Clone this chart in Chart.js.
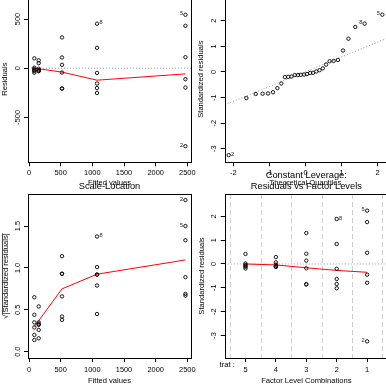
<!DOCTYPE html>
<html lang="en">
<head>
<meta charset="UTF-8">
<title>lm diagnostics: trat</title>
<script src="https://cdn.jsdelivr.net/npm/chart.js"></script>
<style>
    html, body { margin: 0; padding: 0; background: #fff; }
    body { width: 386px; height: 386px; position: relative; overflow: hidden; }
    canvas { position: absolute; }
</style>
</head>
<body>
<canvas id="resFit" width="200" height="200" style="left:0px;top:-10px"></canvas>
<canvas id="qq" width="200" height="200" style="left:193px;top:-10px"></canvas>
<canvas id="scaleLoc" width="200" height="208" style="left:0px;top:178px"></canvas>
<canvas id="resFac" width="200" height="221" style="left:193px;top:165px"></canvas>

<script>
    Chart.defaults.font.family = '"Liberation Sans", Arial, sans-serif';
    Chart.defaults.color = '#000';

    // trat levels, in the order of their fitted values
    const levels = ['5', '4', '3', '2', '1'];
    const fitted = [84, 153, 521, 1074, 2470];

    // raw residuals per level
    const resid = [
        [100, 5, -9, -20, -29, -46],
        [80, 52, -6, -20, -27, -30],
        [313, 109, 34, -44, -207, -207],
        [452, 207, -48, -156, -202, -252],
        [543, 431, 112, -112, -197, -793]
    ];
    const residSmooth = [0, -6, -40, -122, -58];

    // standardized residuals per level
    const stdResid = [
        [0.42, 0.02, -0.04, -0.08, -0.12, -0.19],
        [0.29, 0.07, -0.03, -0.10, -0.11, -0.12],
        [1.30, 0.43, 0.14, -0.18, -0.85, -0.86],
        [1.89, 0.84, -0.20, -0.63, -0.84, -1.02],
        [2.24, 1.76, 0.47, -0.45, -0.79, -3.25]
    ];
    const facSmooth = [0, -0.04, -0.16, -0.27, -0.35];

    // sqrt(|standardized residuals|) per level
    const sqrtAbsStd = [
        [0.65, 0.44, 0.35, 0.29, 0.20, 0.14],
        [0.54, 0.35, 0.33, 0.32, 0.26, 0.16],
        [1.14, 0.93, 0.93, 0.66, 0.42, 0.38],
        [1.375, 1.01, 0.92, 0.92, 0.79, 0.45],
        [1.81, 1.50, 1.33, 0.89, 0.69, 0.67]
    ];
    const slSmooth = [0.30, 0.37, 0.75, 0.925, 1.095];

    // normal Q-Q
    const qqTheo = [-2.13, -1.64, -1.38, -1.19, -1.04, -0.90, -0.78, -0.67, -0.57, -0.48,
        -0.39, -0.30, -0.21, -0.13, -0.04, 0.04, 0.13, 0.21, 0.30, 0.39,
        0.48, 0.57, 0.67, 0.78, 0.90, 1.04, 1.19, 1.38, 1.64, 2.13];
    const qqSample = [-3.25, -1.02, -0.86, -0.85, -0.84, -0.79, -0.63, -0.45, -0.20, -0.19,
        -0.18, -0.12, -0.12, -0.11, -0.10, -0.08, -0.04, -0.03, 0.02, 0.07,
        0.14, 0.29, 0.42, 0.43, 0.47, 0.84, 1.30, 1.76, 1.89, 2.24];
    const qqLine = [0.01, 0.578];   // intercept, slope

    // ticks
    const fitTicks = [0, 500, 1000, 1500, 2000, 2500];
    const residTicks = [-500, 0, 500];
    const stdTicks = [-3, -2, -1, 0, 1, 2];
    const qqTicks = [-2, -1, 0, 1, 2];
    const slTicks = [0, 0.5, 1, 1.5];
    const slTickLabels = ['0.0', '0.5', '1.0', '1.5'];
    const facPos = [1, 2, 3, 4, 5];
    const facDividers = [0.5, 1.5, 2.5, 3.5, 4.5, 5.5];

    const TICK_FONT = 7.4;
    const LAB_FONT = 7.6;

    function groupPoints(xs, groups) {
        const pts = [];
        groups.forEach((g, i) => g.forEach(v => pts.push({ x: xs[i], y: v })));
        return pts;
    }
    function zip(xs, ys) {
        return xs.map((x, i) => ({ x, y: ys[i] }));
    }

    // R-ish extras: box, dotted/dashed ref lines, rotated y tick labels, id labels
    const rPlot = {
        id: 'rPlot',
        beforeDatasetsDraw(chart, args, o) {
            const { ctx, chartArea: a, scales: { x, y } } = chart;
            ctx.save();
            ctx.beginPath();
            ctx.rect(a.left, a.top, a.right - a.left, a.bottom - a.top);
            ctx.clip();
            ctx.lineWidth = 1;
            (o.vLines || []).forEach(v => {
                const px = Math.round(x.getPixelForValue(v)) + 0.5;
                ctx.strokeStyle = '#cfcfcf';
                ctx.setLineDash([5, 3]);
                ctx.beginPath();
                ctx.moveTo(px, a.top);
                ctx.lineTo(px, a.bottom);
                ctx.stroke();
            });
            (o.abLines || []).forEach(([a0, b]) => {
                ctx.strokeStyle = '#9a9a9a';
                ctx.setLineDash([1, 2]);
                ctx.beginPath();
                ctx.moveTo(x.getPixelForValue(x.min), y.getPixelForValue(a0 + b * x.min));
                ctx.lineTo(x.getPixelForValue(x.max), y.getPixelForValue(a0 + b * x.max));
                ctx.stroke();
            });
            ctx.restore();
        },
        afterDraw(chart, args, o) {
            const { ctx, chartArea: a, scales: { x, y } } = chart;
            ctx.save();
            // box
            ctx.strokeStyle = '#000';
            ctx.lineWidth = 1;
            ctx.strokeRect(Math.round(a.left) + 0.5, Math.round(a.top) + 0.5,
                Math.round(a.right - a.left), Math.round(a.bottom - a.top));

            // y tick labels, parallel to the axis
            ctx.fillStyle = '#000';
            ctx.font = TICK_FONT + 'px "Liberation Sans", Arial, sans-serif';
            ctx.textAlign = 'center';
            ctx.textBaseline = 'middle';
            y.ticks.forEach((t, i) => {
                ctx.save();
                ctx.translate(a.left - o.yGap, y.getPixelForValue(t.value));
                ctx.rotate(-Math.PI / 2);
                ctx.fillText(o.yLabels ? o.yLabels[i] : String(t.value), 0, 0);
                ctx.restore();
            });

            // observation ids
            ctx.font = '5.6px "Liberation Sans", Arial, sans-serif';
            ctx.fillStyle = '#222';
            (o.ids || []).forEach(d => {
                const px = x.getPixelForValue(d.x), py = y.getPixelForValue(d.y) - 1;
                ctx.textAlign = d.side === 'left' ? 'right' : 'left';
                ctx.fillText(d.text, d.side === 'left' ? px - 2.4 : px + 2.4, py);
            });

            // factor name under the axis
            if (o.facName) {
                ctx.font = LAB_FONT + 'px "Liberation Sans", Arial, sans-serif';
                ctx.fillStyle = '#000';
                ctx.textAlign = 'center';
                ctx.fillText(o.facName, a.left + 2.5, a.bottom + 6.5);
            }

            // overline for the sqrt label
            if (o.overline) {
                const t = chart.options.scales.y.title.text;
                ctx.font = LAB_FONT + 'px "Liberation Sans", Arial, sans-serif';
                const w = ctx.measureText(t).width;
                const w0 = ctx.measureText('\u221a').width;
                const yc = (y.top + y.bottom) / 2;
                const xl = y.left + o.overline;
                ctx.beginPath();
                ctx.moveTo(xl, yc + w / 2 - w0);
                ctx.lineTo(xl, yc - w / 2);
                ctx.strokeStyle = '#000';
                ctx.lineWidth = 0.8;
                ctx.stroke();
            }
            ctx.restore();
        }
    };

    function xAxis(min, max, ticks, labels, title, h, tickPad, titlePad) {
        return {
            type: 'linear', position: 'bottom', min, max,
            afterBuildTicks: s => { s.ticks = ticks.map(v => ({ value: v })); },
            afterFit: s => { s.height = h; s.paddingLeft = 0; s.paddingRight = 0; },
            grid: { drawOnChartArea: false, drawTicks: true, tickLength: 4, color: '#000' },
            border: { display: false },
            ticks: {
                font: { size: TICK_FONT }, padding: tickPad, maxRotation: 0, autoSkip: false,
                callback: (v, i) => labels[i]
            },
            title: { display: true, text: title, font: { size: LAB_FONT }, padding: { top: 0, bottom: titlePad } }
        };
    }

    function yAxis(min, max, ticks, title, w, titlePad) {
        return {
            type: 'linear', position: 'left', min, max,
            afterBuildTicks: s => { s.ticks = ticks.map(v => ({ value: v })); },
            afterFit: s => { s.width = w; s.paddingTop = 0; s.paddingBottom = 0; },
            grid: { drawOnChartArea: false, drawTicks: true, tickLength: 4, color: '#000' },
            border: { display: false },
            ticks: { display: false },
            title: { display: true, text: title, font: { size: LAB_FONT }, padding: { top: titlePad, bottom: 0 } }
        };
    }

    function pointSet(data) {
        return {
            data, pointStyle: 'circle', pointRadius: 1.7, pointHoverRadius: 1.7,
            pointBorderWidth: 0.9, borderColor: '#000', backgroundColor: 'rgba(0,0,0,0)'
        };
    }
    function smoothSet(data) {
        return { data, showLine: true, borderColor: '#ff0000', borderWidth: 1, pointRadius: 0, fill: false };
    }

    function rChart(id, datasets, scales, padding, title, extras) {
        return new Chart(document.getElementById(id), {
            type: 'scatter',
            data: { datasets },
            options: {
                responsive: false,
                animation: false,
                events: [],
                layout: { padding },
                scales,
                plugins: {
                    legend: { display: false },
                    tooltip: { enabled: false },
                    title: title || { display: false },
                    rPlot: extras
                }
            },
            plugins: [rPlot]
        });
    }

    // Residuals vs Fitted
    rChart('resFit',
        [pointSet(groupPoints(fitted, resid)), smoothSet(zip(fitted, residSmooth))],
        {
            x: xAxis(-16, 2558, fitTicks, fitTicks.map(String), 'Fitted values', 27.7, 2.3, 2.1),
            y: yAxis(-957, 734, residTicks, 'Residuals', 28, 0.4)
        },
        { top: 6, right: 9, bottom: 0, left: 0 }, null,
        {
            yGap: 9.7, abLines: [[0, 0]],
            ids: [
                { x: fitted[4], y: resid[4][0], text: '5', side: 'left' },
                { x: fitted[4], y: resid[4][5], text: '2', side: 'left' },
                { x: fitted[3], y: resid[3][0], text: '8', side: 'right' }
            ]
        });

    // Normal Q-Q
    rChart('qq',
        [pointSet(zip(qqTheo, qqSample))],
        {
            x: xAxis(-2.24, 2.24, qqTicks, qqTicks.map(String), 'Theoretical Quantiles', 27.7, 2.3, 2.1),
            y: yAxis(-3.53, 2.97, stdTicks, 'Standardized residuals', 31.7, 3.7)
        },
        { top: 6, right: 6.7, bottom: 0, left: 0 }, null,
        {
            yGap: 10.7, abLines: [qqLine],
            ids: [
                { x: qqTheo[29], y: qqSample[29], text: '5', side: 'left' },
                { x: qqTheo[28], y: qqSample[28], text: '8', side: 'left' },
                { x: qqTheo[0], y: qqSample[0], text: '2', side: 'right' }
            ]
        });

    // Scale-Location
    rChart('scaleLoc',
        [pointSet(groupPoints(fitted, sqrtAbsStd)), smoothSet(zip(fitted, slSmooth))],
        {
            x: xAxis(-16, 2558, fitTicks, fitTicks.map(String), 'Fitted values', 28, 3.5, 0.2),
            y: yAxis(-0.075, 1.882, slTicks, '\u221a|Standardized residuals|', 28, 1.4)
        },
        { top: 0, right: 9, bottom: 0, left: 0 },
        {
            display: true, text: 'Scale-Location', fullSize: false, color: '#000',
            font: { size: 9.3, weight: 'normal', lineHeight: '11px' },
            padding: { top: 3.2, bottom: 1.8 }
        },
        {
            yGap: 9.7, yLabels: slTickLabels, overline: 2.6,
            ids: [
                { x: fitted[4], y: sqrtAbsStd[4][0], text: '2', side: 'left' },
                { x: fitted[4], y: sqrtAbsStd[4][1], text: '5', side: 'left' },
                { x: fitted[3], y: sqrtAbsStd[3][0], text: '8', side: 'right' }
            ]
        });

    // Residuals vs Factor Levels
    rChart('resFac',
        [pointSet(groupPoints(facPos, stdResid)), smoothSet(zip(facPos, facSmooth))],
        {
            x: xAxis(0.316, 5.684, facPos, levels, 'Factor Level Combinations', 28, 3.5, 0.2),
            y: yAxis(-3.95, 2.94, stdTicks, 'Standardized residuals', 31.7, 4.4)
        },
        { top: 0, right: 5.1, bottom: 0, left: 0 },
        {
            display: true, text: ['Constant Leverage:', 'Residuals vs Factor Levels'], fullSize: false, color: '#000',
            font: { size: 9.3, weight: 'normal', lineHeight: '11.7px' },
            padding: { top: 4.15, bottom: 1.45 }
        },
        {
            yGap: 10.7, abLines: [[0, 0]], vLines: facDividers, facName: 'trat :',
            ids: [
                { x: facPos[4], y: stdResid[4][0], text: '5', side: 'left' },
                { x: facPos[4], y: stdResid[4][5], text: '2', side: 'left' },
                { x: facPos[3], y: stdResid[3][0], text: '8', side: 'right' }
            ]
        });
</script>
</body>
</html>
